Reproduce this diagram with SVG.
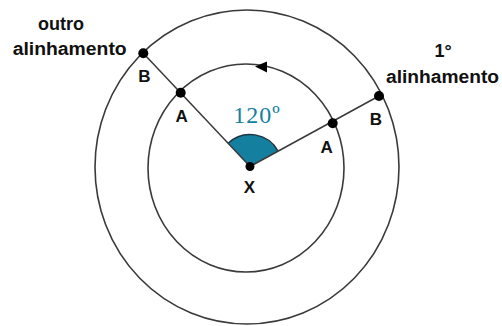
<svg xmlns="http://www.w3.org/2000/svg" width="502" height="326" viewBox="0 0 502 326">
<style>
.circ{fill:none;stroke:#3a3a3a;stroke-width:1.6}
.ln{stroke:#3a3a3a;stroke-width:1.5;fill:none}
.dot{fill:#000}
.lbl{font-family:"Liberation Sans",Arial,sans-serif;font-weight:bold;font-size:17px;fill:#111;text-anchor:middle}
.ttl{font-family:"Liberation Sans",Arial,sans-serif;font-weight:bold;font-size:18px;fill:#111;text-anchor:middle}
.ang{font-family:"Liberation Serif","Times New Roman",serif;font-size:24px;fill:#157f9f;text-anchor:middle;letter-spacing:1px}
</style>
<rect width="502" height="326" fill="#fff"/>
<g id="outer-circle"><ellipse class="circ" cx="247" cy="167" rx="152" ry="157"/></g>
<g id="inner-circle"><ellipse class="circ" cx="246" cy="168" rx="98" ry="104"/>
<polygon points="255,66.5 267,61.5 267,72.5" fill="#000"/></g>
<g id="angle">
<path d="M250,166.5 L228.1,143.2 A32,32 0 0 1 278.1,151.2 Z" fill="#157f9f"/>
<path d="M228.1,143.2 A32,32 0 0 1 278.1,151.2" fill="none" stroke="#1c3440" stroke-width="1.4"/>
<text class="ang" x="257" y="123">120º</text>
</g>
<g id="connectors">
<line class="ln" x1="250" y1="166.5" x2="143.3" y2="53.3"/>
<line class="ln" x1="250" y1="166.5" x2="379" y2="96"/>
</g>
<g id="X"><circle class="dot" cx="250" cy="166.5" r="4.5"/><text class="lbl" x="249.5" y="193">X</text></g>
<g id="A-left"><circle class="dot" cx="180.7" cy="92.7" r="5"/><text class="lbl" x="181.7" y="121.5">A</text></g>
<g id="B-left"><circle class="dot" cx="143.3" cy="53.3" r="5"/><text class="lbl" x="144.5" y="81.5">B</text></g>
<g id="A-right"><circle class="dot" cx="332.7" cy="123.3" r="5"/><text class="lbl" x="326.7" y="153">A</text></g>
<g id="B-right"><circle class="dot" cx="379" cy="96" r="5"/><text class="lbl" x="376" y="125">B</text></g>
<g id="label-outro">
<text class="ttl" x="61" y="30">outro</text>
<text class="ttl" x="69.7" y="55" textLength="114" lengthAdjust="spacingAndGlyphs">alinhamento</text>
</g>
<g id="label-primeiro">
<text class="ttl" x="443" y="56.5">1°</text>
<text class="ttl" x="442.5" y="83" textLength="113" lengthAdjust="spacingAndGlyphs">alinhamento</text>
</g>
</svg>
